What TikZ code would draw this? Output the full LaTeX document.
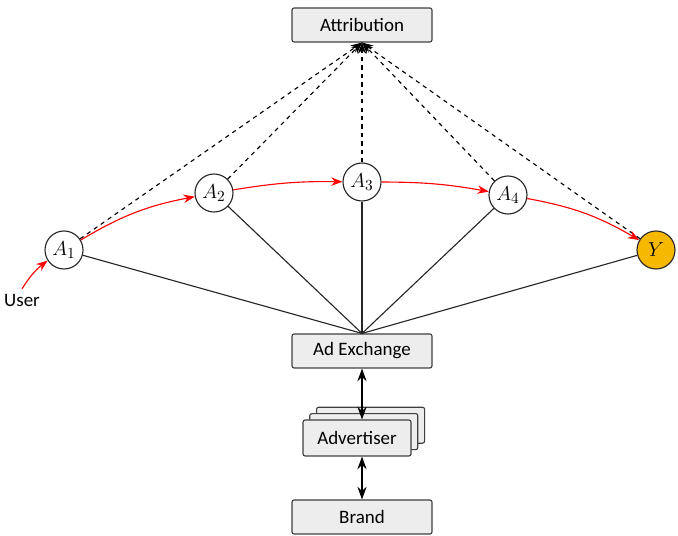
\documentclass[tikz,border=0pt]{standalone}
\usepackage{fontspec}
\setmainfont{Carlito}
\usetikzlibrary{arrows.meta,shadows}

\tikzset{
  box/.style={draw=black!75, thick, fill=black!7, rounded corners=1.5pt,
              minimum width=3.5cm, minimum height=0.85cm, font=\fontsize{13.5}{15}\selectfont},
  circ/.style={draw=black!85, thick, fill=white, circle, minimum size=0.95cm, inner sep=0pt,
               font=\fontsize{15}{17}\selectfont},
  flow/.style={draw=red, thick, -{Stealth[length=8pt,width=6pt]}, bend left=10},
  credit/.style={dashed, thick, -{Stealth[length=8pt,width=6pt]}},
  both/.style={thick, {Stealth[length=9pt,width=6.5pt]}-{Stealth[length=9pt,width=6.5pt]}}
}

\begin{document}
\begin{tikzpicture}
        \useasboundingbox (0,0) rectangle (16.95,13.4);
        \node[box] (attr)  at (9.05,12.775) {Attribution};          %top
        \node[circ] (a1)   at (1.6,7.15)    {$A_1$};                %
        \node[circ] (a2)   at (5.35,8.575)  {$A_2$};                %
        \node[circ] (a3)   at (9.05,8.85)   {$A_3$};                %
        \node[circ] (a4)   at (12.7,8.525)  {$A_4$};                %
        \node[circ, fill={rgb,255:red,247;green,184;blue,0}] (y) at (16.4,7.15) {$Y$}; %conversion
        \node[box] (ex)    at (9.05,4.625)  {Ad Exchange};          %
        \node[box, minimum width=2.7cm, minimum height=0.9cm,
              double copy shadow={shadow xshift=0.17cm, shadow yshift=0.16cm}]
                   (adv)   at (8.925,2.45)  {Advertiser};           %stack
        \node[box] (brand) at (9.05,0.475)  {Brand};                %
        \node (user)       at (0.55,5.9)    {\fontsize{13.5}{15}\selectfont User}; %

        \foreach \n in {a1,a2,a3,a4,y}
          \draw [thick, black!85] (\n) -- (ex.north);               %
        \foreach \n in {a1,a2,a3,a4,y}
          \draw [credit] (\n) -- (attr.south);                      %

        \draw [flow] (user.north) to (a1);                          %
        \draw [flow] (a1) to (a2);                                  %
        \draw [flow, bend left=5] (a2) to (a3);                     %
        \draw [flow, bend left=5] (a3) to (a4);                     %
        \draw [flow] (a4) to (y);                                   %

        \draw [both] (ex.south) -- (ex.south |- adv.north);         %
        \draw [both] (brand.north |- adv.south) -- (brand.north);   %
\end{tikzpicture}
\end{document}
